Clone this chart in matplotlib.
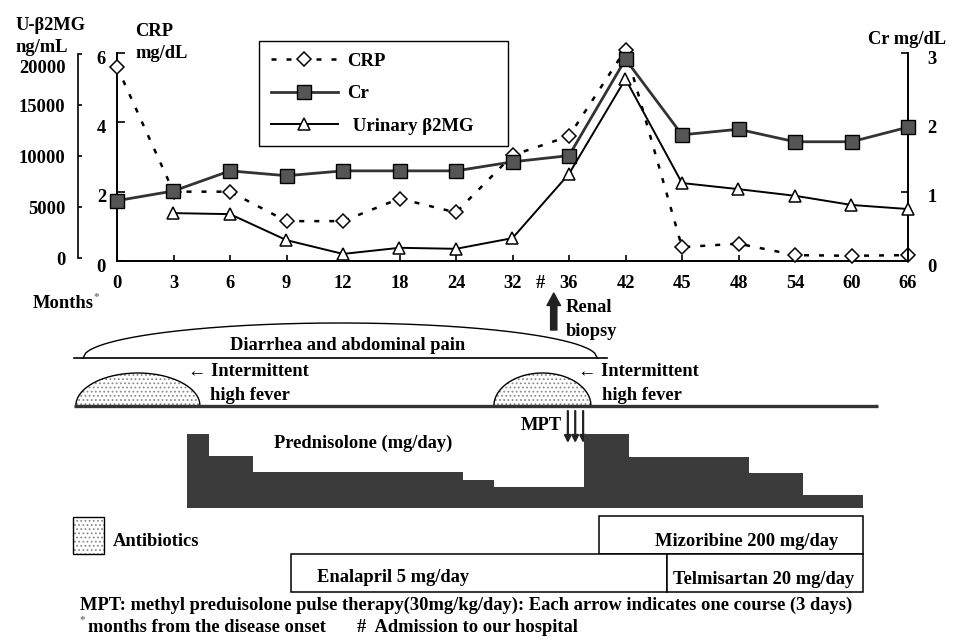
import numpy as np
import matplotlib
matplotlib.use("Agg")
import matplotlib.pyplot as plt
from matplotlib.patches import Rectangle
from matplotlib.transforms import ScaledTranslation

# ---- chart data -------------------------------------------------------
months = ["0", "3", "6", "9", "12", "18", "24", "32", "36", "42", "45", "48", "54", "60", "66"]
crp = [5.6, 2.0, 2.0, 1.15, 1.15, 1.8, 1.4, 3.05, 3.6, 6.1, 0.4, 0.5, 0.17, 0.15, 0.17]      # mg/dL
cr = [0.87, 1.01, 1.30, 1.23, 1.30, 1.30, 1.30, 1.43, 1.52, 2.91, 1.82, 1.90, 1.72, 1.72, 1.93]  # mg/dL
u_b2mg = [np.nan, 4400, 4300, 1750, 400, 1000, 900, 1950, 8250, 17550, 7350, 6750, 6100, 5200, 4800]  # ng/mL

# ---- clinical timeline (positions on the month axis, 0 = first tick) ----
diarrhea_span = (-0.60, 8.50)
diarrhea_base = (-0.76, 8.67)
fever_axis = (-0.76, 13.47)
fever_spans = [(-0.73, 1.47), (6.67, 8.39)]
biopsy_pos = 7.73
admission_pos = 7.5
mpt_pos = [7.98, 8.11, 8.25]
pred_edges = [1.24, 1.63, 2.41, 6.12, 6.67, 8.27, 9.06, 11.19, 12.14, 13.20]
pred_dose = [40, 28, 19.5, 15, 11.5, 40, 27.5, 19, 7]   # mg/day (schematic)
mizoribine_span = (8.53, 13.20)
enalapril_span = (3.08, 9.73)
telmisartan_span = (9.73, 13.20)

plt.rcParams['font.family'] = ['Liberation Serif', 'DejaVu Serif']
plt.rcParams['font.weight'] = 'bold'
plt.rcParams['hatch.linewidth'] = 0.8

W, H = 958, 644
X0, X1, YT, YB = 117, 908, 53, 261          # plot box in pixels
step = (X1 - X0) / (len(months) - 1)
FS = 13.3


def fxy(px, py):
    return px / W, 1 - py / H


def label(px, py, s, **kw):
    kw.setdefault('va', 'center')
    kw.setdefault('fontsize', FS)
    fig.text(*fxy(px, py), s, **kw)


def nudge(texts, dy_px):
    # move tick labels down a few pixels, as in the original layout
    off = ScaledTranslation(0, -dy_px / 100, fig.dpi_scale_trans)
    for t in texts:
        t.set_transform(t.get_transform() + off)


fig = plt.figure(figsize=(W / 100, H / 100), dpi=100)

# overlay for the timeline: x in month-axis positions, y in pixel rows
axl = fig.add_axes([0, 0, 1, 1], zorder=-1)
axl.set_xlim(-X0 / step, (W - X0) / step)
axl.set_ylim(H, 0)
axl.axis('off')

# ---- main chart ---------------------------------------------------------
ax = fig.add_axes([X0 / W, 1 - YB / H, (X1 - X0) / W, (YB - YT) / H])
ax.set_facecolor('none')
x = np.arange(len(months))
ax.set_xlim(0, len(months) - 1)
ax.set_ylim(0, 6)
ax.set_yticks([0, 2, 4, 6])
ax.set_xticks(x)
ax.set_xticklabels(months)
for s in ['top', 'right']:
    ax.spines[s].set_visible(False)
for s in ['left', 'bottom']:
    ax.spines[s].set_linewidth(1.4)
ax.tick_params(axis='x', direction='in', length=4, width=1.2, pad=10, labelsize=FS)
ax.tick_params(axis='y', direction='in', length=6, width=1.2, pad=8, labelsize=FS)
nudge(ax.get_yticklabels(), 4)

l_crp, = ax.plot(x, crp, color='black', lw=1.8, ls=(0, (2, 4)), marker='D', ms=7.5,
                 mfc='white', mec='black', mew=1.1, clip_on=False, zorder=3)

ax2 = ax.twinx()
ax2.set_ylim(0, 3)
ax2.set_yticks([0, 1, 2, 3])
for s in ['left', 'top', 'bottom']:
    ax2.spines[s].set_visible(False)
ax2.spines['right'].set_linewidth(1.4)
ax2.tick_params(axis='y', direction='in', length=5, width=1.2, pad=14, labelsize=FS)
nudge(ax2.get_yticklabels(), 4)
l_cr, = ax2.plot(x, cr, color='#333333', lw=2, marker='s', ms=10, mfc='#555555',
                 mec='black', mew=1, clip_on=False, zorder=3)

ax3 = ax.twinx()
ax3.set_ylim(-294, 20098)
ax3.set_yticks([0, 5000, 10000, 15000, 20000])
for s in ['right', 'top', 'bottom']:
    ax3.spines[s].set_visible(False)
ax3.spines['left'].set_visible(True)
ax3.spines['left'].set_position(('outward', 28))
ax3.spines['left'].set_bounds(0, 20000)
ax3.spines['left'].set_linewidth(1.2)
ax3.yaxis.set_ticks_position('left')
ax3.tick_params(axis='y', direction='in', length=3, width=1.2, pad=9, labelsize=FS)
nudge(ax3.get_yticklabels()[-1:], 13)
l_b2, = ax3.plot(x, u_b2mg, color='black', lw=1.4, marker='^', ms=9, mfc='white',
                 mec='black', mew=1.1, clip_on=False, zorder=3)

lx, ly = fxy(259, 41)
fig.legend([l_crp, l_cr, l_b2], ['CRP', 'Cr', ' Urinary β2MG'], loc='upper left',
           bbox_to_anchor=(lx, ly - 105 / H, 249 / W, 105 / H), mode='expand',
           bbox_transform=fig.transFigure, borderaxespad=0,
           fancybox=False, edgecolor='black', framealpha=1, handlelength=3.6,
           handletextpad=0.5, labelspacing=0.82, borderpad=0.62, fontsize=13.5)

label(15, 25, 'U-β2MG')
label(15, 48, 'ng/mL')
label(135, 32, 'CRP')
label(135, 54, 'mg/dL')
label(868, 40, 'Cr mg/dL')
label(33, 303, 'Months')
label(94, 298, '*', fontsize=8, color='#777777')
axl.text(admission_pos, 283, '#', ha='center', va='center', fontsize=FS)

# ---- timeline -----------------------------------------------------------
# diarrhoea arc
xs = np.linspace(*diarrhea_span, 200)
t = (xs - np.mean(diarrhea_span)) / ((diarrhea_span[1] - diarrhea_span[0]) / 2)
axl.plot(xs, 358 - 35 * np.sqrt(np.clip(1 - t ** 2, 0, None)), color='black', lw=1)
axl.plot(diarrhea_base, [358, 358], color='black', lw=1.2)
label(348, 345, 'Diarrhea and abdominal pain', ha='center')

# fever bumps (antibiotics shading)
for a, b in fever_spans:
    xs = np.linspace(a, b, 200)
    t = (xs - (a + b) / 2) / ((b - a) / 2)
    ys = 406 - 33 * np.sqrt(np.clip(1 - t ** 2, 0, None))
    axl.fill_between(xs, 406, ys, facecolor='white', edgecolor='#8c8c8c', hatch='....', lw=0)
    axl.plot(xs, ys, color='black', lw=1)
axl.plot(fever_axis, [406, 406], color='#333333', lw=2.4, solid_capstyle='butt')
label(188, 372, '← Intermittent')
label(210, 395, 'high fever')
label(578, 371, '← Intermittent')
label(602, 395, 'high fever')

# renal biopsy
axl.annotate('', xy=(biopsy_pos, 293), xytext=(biopsy_pos, 330),
             arrowprops=dict(arrowstyle='simple,head_width=0.65,head_length=0.6,tail_width=0.3',
                             color='#222222', mutation_scale=15, shrinkA=0, shrinkB=0))
label(566, 308, 'Renal')
label(566, 331, 'biopsy')

# MPT courses
for p in mpt_pos:
    axl.annotate('', xy=(p, 443), xytext=(p, 411),
                 arrowprops=dict(arrowstyle='-|>', color='#222222', lw=1.6,
                                 mutation_scale=10, shrinkA=0, shrinkB=0))
label(562, 425, 'MPT', ha='right')

# prednisolone dose steps
axp = fig.add_axes([0, 1 - 508 / H, 1, 74 / H], zorder=-1)
axp.set_xlim(axl.get_xlim())
axp.set_ylim(0, 40)
axp.axis('off')
axp.stairs(pred_dose, pred_edges, fill=True, color='#3b3b3b')
label(274, 443, 'Prednisolone (mg/day)')

# antibiotics key
fig.add_artist(Rectangle(fxy(73, 554), 31 / W, 37 / H, transform=fig.transFigure,
                         facecolor='white', edgecolor='#8c8c8c', hatch='....', lw=0))
fig.add_artist(Rectangle(fxy(73, 554), 31 / W, 37 / H, transform=fig.transFigure,
                         facecolor='none', edgecolor='black', lw=1))
label(113, 542, 'Antibiotics')

# other drugs
for (a, b), top in [(mizoribine_span, 516), (enalapril_span, 554), (telmisartan_span, 554)]:
    axl.add_patch(Rectangle((a, top), b - a, 38, facecolor='white', edgecolor='black', lw=1.1))
label(655, 541, 'Mizoribine 200 mg/day')
label(317, 578, 'Enalapril 5 mg/day')
label(673, 579, 'Telmisartan 20 mg/day')

# footnotes
FN = 13.35
label(80, 605, 'MPT: methyl preduisolone pulse therapy(30mg/kg/day): Each arrow indicates one course (3 days)',
      fontsize=FN)
label(80, 621, '*', fontsize=8, color='#777777')
label(88, 627, 'months from the disease onset', fontsize=FN)
label(357, 628, '#  Admission to our hospital', fontsize=FN)

fig.savefig('out.png', dpi=100)
